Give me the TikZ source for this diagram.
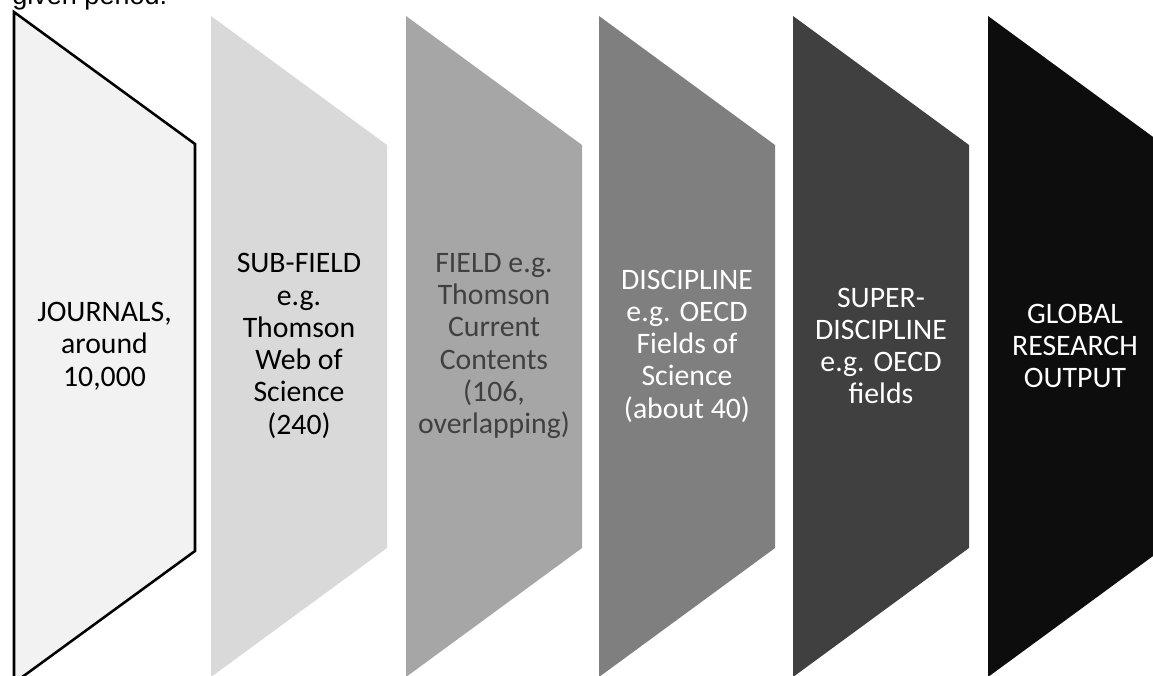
\documentclass[tikz,border=0pt]{standalone}
\usepackage{fontspec}
\setmainfont{Carlito}
\newfontfamily\arialfont{Liberation Sans}
\definecolor{fillA}{HTML}{F2F2F2}
\definecolor{fillB}{HTML}{D9D9D9}
\definecolor{fillC}{HTML}{A6A6A6}
\definecolor{fillD}{HTML}{7F7F7F}
\definecolor{fillE}{HTML}{404040}
\definecolor{fillF}{HTML}{0D0D0D}
\definecolor{textC}{HTML}{404040}
\tikzset{
  blocktext/.style={align=center, inner sep=0pt, font=\fontsize{22.3pt}{24.2pt}\selectfont},
}
\begin{document}
\begin{tikzpicture}[x=0.75pt,y=-0.75pt]
\useasboundingbox (0,0) rectangle (1153,675);
\fill[white] (0,0) rectangle (1153,675);
% top cropped caption
\node[anchor=base west, inner sep=0pt, font=\arialfont\fontsize{20.3pt}{24pt}\selectfont] (cap) at (12,4) {given period.};
% shape 1
\filldraw[fill=fillA, draw=black, line width=1.9pt, line join=miter] (14,12) -- (195,144) -- (195,551) -- (14,683) -- cycle;
\node[blocktext, text=black] (t1) at (104.5,346) {JOURNALS,\\around\\10,000};
% shape 2
\fill[fillB] (211,16) -- (387,145) -- (387,548) -- (211,677) -- cycle;
\node[blocktext, text=black] (t2) at (299,346) {SUB-FIELD\\e.g.\\Thomson\\Web of\\Science\\(240)};
% shape 3
\fill[fillC] (406,16) -- (582,145) -- (582,548) -- (406,677) -- cycle;
\node[blocktext, text=textC] (t3) at (494,346) {FIELD e.g.\\Thomson\\Current\\Contents\\(106,\\overlapping)};
% shape 4
\fill[fillD] (599,16) -- (775,145) -- (775,548) -- (599,677) -- cycle;
\node[blocktext, text=white] (t4) at (687,346) {DISCIPLINE\\e.g. OECD\\Fields of\\Science\\(about 40)};
% shape 5
\fill[fillE] (793,16) -- (969,145) -- (969,548) -- (793,677) -- cycle;
\node[blocktext, text=white] (t5) at (881,346) {SUPER-\\DISCIPLINE\\e.g. OECD\\fields};
% shape 6
\fill[fillF] (988,16) -- (1164,145) -- (1164,548) -- (988,677) -- cycle;
\node[blocktext, text=white] (t6) at (1075,346) {GLOBAL\\RESEARCH\\OUTPUT};
\end{tikzpicture}
\end{document}
